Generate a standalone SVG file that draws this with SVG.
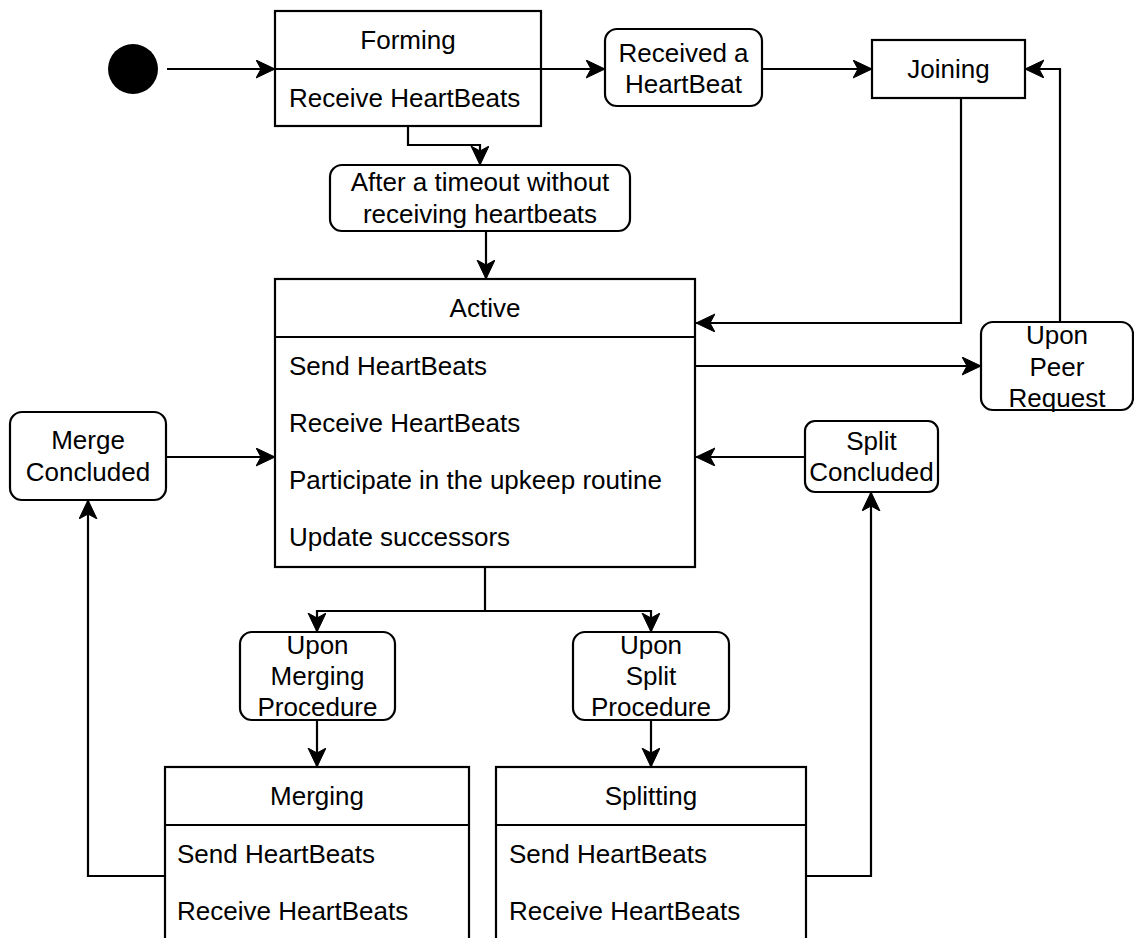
<svg xmlns="http://www.w3.org/2000/svg" width="1134" height="938" viewBox="0 0 1134 938">
<style>
.box{fill:#fff;stroke:#000;stroke-width:2.2}
.div{stroke:#000;stroke-width:2.2;fill:none}
.t{font-family:"Liberation Sans",Arial,Helvetica,sans-serif;font-size:26px;fill:#000}
.c{text-anchor:middle}
.edge{fill:none;stroke:#000;stroke-width:2.2;marker-end:url(#arr)}
</style>
<defs>
<marker id="arr" markerUnits="userSpaceOnUse" markerWidth="22" markerHeight="22" refX="19" refY="9" orient="auto">
<path d="M0,0 L19,9 L0,18 L5,9 Z" fill="#000" stroke="#000" stroke-width="1"/>
</marker>
</defs>
<rect width="1134" height="938" fill="#fff"/>
<g id="connectors">
<path class="edge" d="M167,69 L275,69"/>
<path class="edge" d="M541,69 L605,69"/>
<path class="edge" d="M762,69 L872,69"/>
<path class="edge" d="M408,126 L408,145 L480,145 L480,165"/>
<path class="edge" d="M486,231 L486,279"/>
<path class="edge" d="M961,98 L961,323 L696,323"/>
<path class="edge" d="M695,366 L981,366"/>
<path class="edge" d="M1060,322 L1060,69 L1025,69"/>
<path class="edge" d="M166,457 L275,457"/>
<path class="edge" d="M805,457 L696,457"/>
<path class="edge" d="M485,567 L485,611 L317,611 L317,632"/>
<path class="edge" d="M485,611 L651,611 L651,632"/>
<path class="edge" d="M317,720 L317,767"/>
<path class="edge" d="M651,720 L651,767"/>
<path class="edge" d="M165,876 L88,876 L88,500"/>
<path class="edge" d="M806,876 L871,876 L871,492"/>
</g>
<g id="start">
<circle cx="133" cy="69" r="25" fill="#000"/>
</g>
<g id="forming">
<rect class="box" x="275" y="11" width="266" height="115"/>
<line class="div" x1="275" y1="69" x2="541" y2="69"/>
<text class="t c" x="408" y="49">Forming</text>
<text class="t" x="289" y="107">Receive HeartBeats</text>
</g>
<g id="received">
<rect class="box" x="605" y="29" width="157" height="77" rx="12"/>
<text class="t c" x="683.5" y="62">Received a</text>
<text class="t c" x="683.5" y="93">HeartBeat</text>
</g>
<g id="joining">
<rect class="box" x="872" y="40" width="153" height="58"/>
<text class="t c" x="948.5" y="78">Joining</text>
</g>
<g id="timeout">
<rect class="box" x="330" y="165" width="300" height="66" rx="12"/>
<text class="t c" x="480" y="191">After a timeout without</text>
<text class="t c" x="480" y="223">receiving heartbeats</text>
</g>
<g id="active">
<rect class="box" x="275" y="279" width="420" height="288"/>
<line class="div" x1="275" y1="337" x2="695" y2="337"/>
<text class="t c" x="485" y="317">Active</text>
<text class="t" x="289" y="375">Send HeartBeats</text>
<text class="t" x="289" y="432">Receive HeartBeats</text>
<text class="t" x="289" y="489">Participate in the upkeep routine</text>
<text class="t" x="289" y="546">Update successors</text>
</g>
<g id="peer">
<rect class="box" x="981" y="322" width="152" height="88" rx="12"/>
<text class="t c" x="1057" y="344">Upon</text>
<text class="t c" x="1057" y="376">Peer</text>
<text class="t c" x="1057" y="407">Request</text>
</g>
<g id="mergeConcluded">
<rect class="box" x="10" y="412" width="156" height="88" rx="12"/>
<text class="t c" x="88" y="449">Merge</text>
<text class="t c" x="88" y="481">Concluded</text>
</g>
<g id="splitConcluded">
<rect class="box" x="805" y="421" width="133" height="71" rx="10"/>
<text class="t c" x="871.5" y="450">Split</text>
<text class="t c" x="871.5" y="481">Concluded</text>
</g>
<g id="uponMerging">
<rect class="box" x="240" y="632" width="155" height="88" rx="12"/>
<text class="t c" x="317.5" y="654">Upon</text>
<text class="t c" x="317.5" y="685">Merging</text>
<text class="t c" x="317.5" y="716">Procedure</text>
</g>
<g id="uponSplit">
<rect class="box" x="573" y="632" width="156" height="88" rx="12"/>
<text class="t c" x="651" y="654">Upon</text>
<text class="t c" x="651" y="685">Split</text>
<text class="t c" x="651" y="716">Procedure</text>
</g>
<g id="merging">
<rect class="box" x="165" y="767" width="304" height="190"/>
<line class="div" x1="165" y1="825" x2="469" y2="825"/>
<text class="t c" x="317" y="805">Merging</text>
<text class="t" x="177" y="863">Send HeartBeats</text>
<text class="t" x="177" y="920">Receive HeartBeats</text>
</g>
<g id="splitting">
<rect class="box" x="496" y="767" width="310" height="190"/>
<line class="div" x1="496" y1="825" x2="806" y2="825"/>
<text class="t c" x="651" y="805">Splitting</text>
<text class="t" x="509" y="863">Send HeartBeats</text>
<text class="t" x="509" y="920">Receive HeartBeats</text>
</g>
</svg>
